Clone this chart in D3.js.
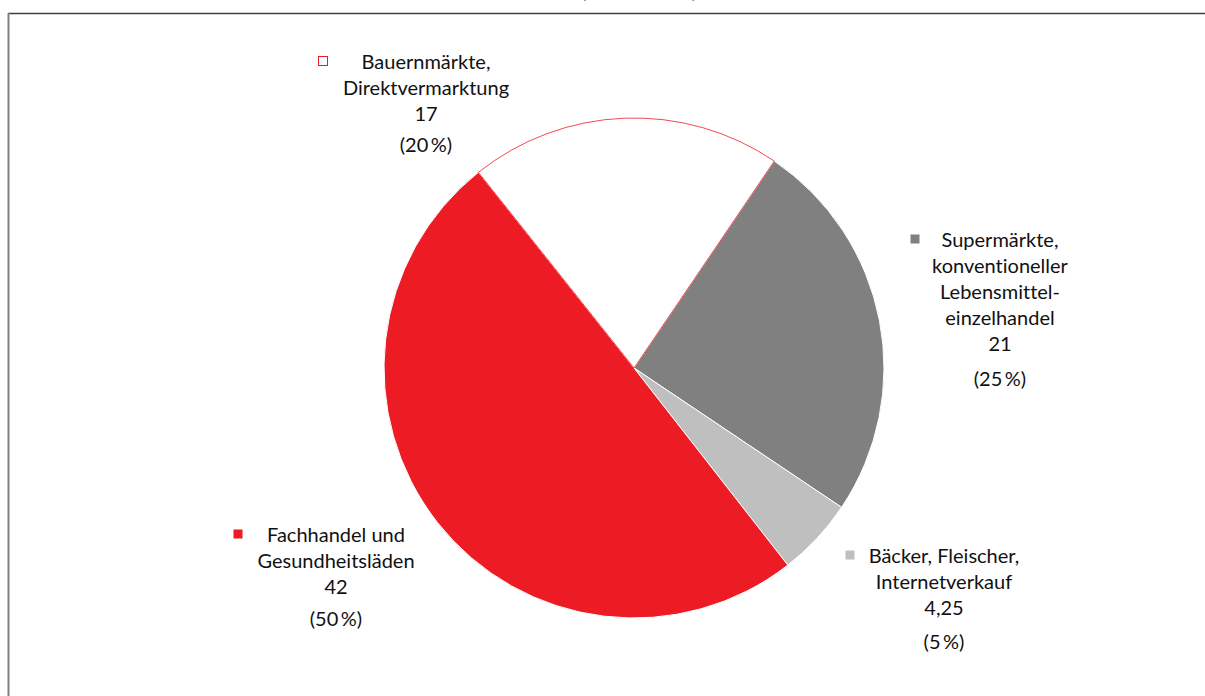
<!DOCTYPE html>
<html>
<head>
<meta charset="utf-8">
<script src="https://cdn.jsdelivr.net/npm/d3@7"></script>
<style>
  body { margin: 0; background: #fff; }
  svg { display: block; font-family: Lato, "Open Sans", sans-serif; font-variant-ligatures: none; }
</style>
</head>
<body>
<div id="chart"></div>
<script>
var categories = ["Bauernmärkte, Direktvermarktung", "Supermärkte, konventioneller Lebensmitteleinzelhandel", "Bäcker, Fleischer, Internetverkauf", "Fachhandel und Gesundheitsläden"]
var values = [17, 21, 4.25, 42]
var valueLabels = ["17", "21", "4,25", "42"]
var percentLabels = ["(20\u2009%)", "(25\u2009%)", "(5\u2009%)", "(50\u2009%)"]
var labelLines = [
    ["Bauernmärkte,", "Direktvermarktung"],
    ["Supermärkte,", "konventioneller", "Lebensmittel-", "einzelhandel"],
    ["Bäcker, Fleischer,", "Internetverkauf"],
    ["Fachhandel und", "Gesundheitsläden"]
]
var colors = ["#ffffff", "#808080", "#bfbfbf", "#ed1c24"]

var width = 1205
var height = 696
var fontSize = "20px"

var svg = d3.select("#chart")
            .append("svg")
            .attr("width", width)
            .attr("height", height)

// frame (only top and left edges visible)
svg.append("line")
    .attr("x1", 8).attr("x2", width).attr("y1", 13.5).attr("y2", 13.5)
    .style("stroke", "#404040").style("stroke-width", 1.5)
svg.append("line")
    .attr("x1", 8.5).attr("x2", 8.5).attr("y1", 13).attr("y2", height)
    .style("stroke", "#808080").style("stroke-width", 2)

// title, cut off at the top like in the source
svg.append("text")
    .attr("x", 639).attr("y", -2)
    .attr("text-anchor", "middle")
    .style("font-size", fontSize)
    .text("(in Mio. Euro)")

var cx = 634, cy = 368, radius = 250
var startDeg = -38.5

var pie = d3.pie()
            .sort(null)
            .startAngle(startDeg * Math.PI / 180)
            .endAngle((startDeg + 360) * Math.PI / 180)
var arc = d3.arc().innerRadius(0).outerRadius(radius)

var arcs = pie(values)

var g = svg.append("g").attr("transform", "translate(" + cx + "," + cy + ")")

// white slice last so its red outline sits on top
var order = [1, 2, 3, 0]
g.selectAll("path")
    .data(order.map(function(i){ return arcs[i] }))
    .enter()
    .append("path")
    .attr("d", arc)
    .attr("fill", function(d){ return colors[d.index] })
    .style("stroke", function(d){ return d.index == 0 ? "#ed1c24" : "#ffffff" })
    .style("stroke-width", function(d){ return d.index == 0 ? 0.8 : 1 })

// label positions (text centre x, first line y, marker x)
var labelPos = [
    {x: 426, y: 62, mx: 323, pctGap: 31},
    {x: 1000, y: 240, mx: 915, pctGap: 35},
    {x: 944, y: 556, mx: 850, pctGap: 34},
    {x: 336, y: 535, mx: 238, pctGap: 32}
]
var lineH = 26

labelPos.forEach(function(p, i){
    var lab = svg.append("g")
    lab.append("rect")
        .attr("x", p.mx - 4.5).attr("y", p.y - 5.5)
        .attr("width", 9).attr("height", 9)
        .attr("fill", i == 0 ? "#ffffff" : colors[i])
        .style("stroke", i == 0 ? "#ed1c24" : "none")
        .style("stroke-width", 1)
    var lines = labelLines[i].concat([valueLabels[i]])
    lines.forEach(function(t, k){
        lab.append("text")
            .attr("x", p.x)
            .attr("y", p.y + k * lineH)
            .attr("dy", "0.35em")
            .attr("text-anchor", "middle")
            .style("font-size", fontSize)
            .style("fill", "#111")
            .text(t)
    })
    lab.append("text")
        .attr("x", p.x)
        .attr("y", p.y + (lines.length - 1) * lineH + p.pctGap)
        .attr("dy", "0.35em")
        .attr("text-anchor", "middle")
        .style("font-size", fontSize)
        .style("fill", "#111")
        .text(percentLabels[i])
})
</script>
</body>
</html>
